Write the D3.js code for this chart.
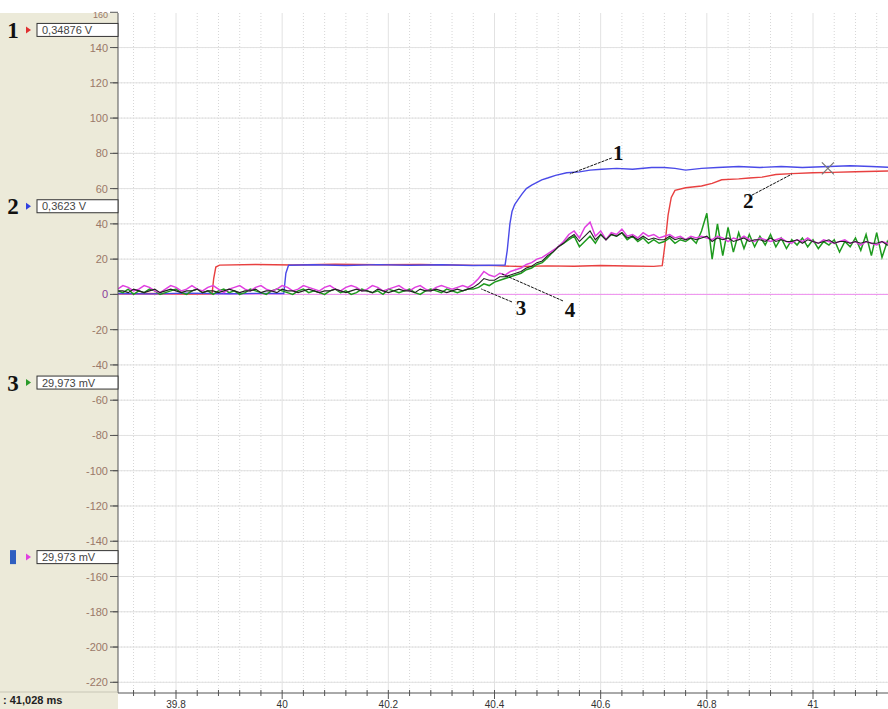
<!DOCTYPE html>
<html>
<head>
<meta charset="utf-8">
<script src="https://cdn.jsdelivr.net/npm/d3@7"></script>
<style>
  body { margin: 0; background: #fff; }
  svg { display: block; font-family: Arial, "Liberation Sans", sans-serif; }
</style>
</head>
<body>
<div class="svg-container"></div>
<script>
// sampled traces 3, 4 and black start at t0, one sample every dt ms
const t0 = 39.69;
const dt = 0.01;

const magentaValues = [
  3,5,4,2,3,5,4,2,1,3, 5,4,2,3,5,3,2,4,5,3, 1,3,4,5,3,2,4,5,3,2,
  3,5,4,2,3,5,4,3,2,4, 5,3,2,4,5,4,2,3,5,4, 2,3,4,5,3,2,4,5,3,2,
  4,5,4,3,4,5,4,
  6,9,13,11,10,12,11,13,14,15, 17,18,20,21,23,25,27,30,34,36,
  32,38,41,33,36,31,35,34,37,33, 34,32,35,33,34,32,33,34,32,33, 31,33,32,33,
  32,31,33,32,30,32,31,33,31,30, 32,31,30,31,32,30,29,31,30,32,
  30,29,31,30,29,30,31,29,30,28, 30,29,28,30,29,28
];

const greenValues = [
  2,1,3,0,2,1,3,2,0,1, 2,3,1,0,2,3,1,2,0,2, 3,1,2,0,1,3,2,1,0,2,
  3,2,1,0,2,3,1,2,1,0, 2,3,1,2,0,1,3,2,1,2, 0,3,2,1,2,3,1,0,2,3,
  2,1,3,2,1,2,3,
  3,4,6,5,7,8,9,10,11,12, 14,15,17,18,21,24,27,29,31,33,
  27,30,33,29,34,31,34,33,35,31, 33,30,32,29,31,29,30,32,29,31, 30,32,29,36,
  46,20,40,22,38,24,35,26,34,27, 33,28,34,27,32,26,31,28,32,27,
  31,26,30,28,31,24,30,27,32,25, 34,22,35,21,30,24
];

const blackValues = [
  2,2,1,3,2,1,2,3,1,2, 3,2,1,2,2,3,1,2,2,1, 2,3,2,1,2,2,3,1,2,2,
  1,3,2,2,1,2,3,2,1,2, 2,3,2,1,2,3,2,2,1,3, 2,1,2,3,2,2,1,3,2,2,
  3,2,1,2,3,2,3,
  4,6,9,8,8,10,10,11,12,13, 15,16,18,19,22,24,27,29,32,34,
  30,33,36,31,34,31,34,33,35,32, 33,31,33,31,32,31,31,33,31,32, 31,32,31,32,
  33,30,32,31,32,30,31,32,30,31, 31,30,32,30,31,30,30,31,29,31,
  30,29,30,31,29,30,30,29,30,29, 30,29,29,30,28,29
];

// [time ms, value]
const blueTrace = [
  [39.69,0.5],[39.75,0.3],[39.82,0.7],[39.90,0.4],[39.96,0.6],[40.003,0.5],[40.007,12],
  [40.012,16.5],[40.06,16.8],[40.12,16.4],[40.18,16.9],[40.24,16.5],[40.30,16.8],
  [40.36,16.4],[40.42,16.7],[40.424,25],[40.429,40],[40.433,47],[40.438,51],[40.445,54],
  [40.452,57],[40.46,60],[40.47,62],[40.48,63.5],[40.489,65],[40.50,66],[40.515,67.5],
  [40.536,69],[40.56,69.5],[40.58,70.5],[40.602,71],[40.63,71.5],[40.66,71],[40.696,72],
  [40.72,72],[40.74,71.5],[40.76,70.5],[40.79,71.5],[40.82,72],[40.86,72.5],[40.90,72],
  [40.94,72.5],[40.98,72],[41.03,72.5],[41.07,73],[41.11,72.5],[41.15,72]
];

const redTrace = [
  [39.69,0.3],[39.75,0.5],[39.82,0.2],[39.868,0.4],[39.871,9],[39.875,15.5],[39.882,16.6],
  [39.95,17],[40.02,16.7],[40.10,17.1],[40.18,16.8],[40.26,17],[40.34,16.6],[40.40,16.3],
  [40.45,15.8],[40.50,16.2],[40.55,16],[40.60,16.4],[40.65,16.1],[40.70,15.9],[40.716,16.3],
  [40.721,28],[40.727,45],[40.733,55],[40.74,59],[40.76,60.5],[40.79,61.5],[40.81,63],
  [40.828,65],[40.86,65.5],[40.88,66],[40.904,66.5],[40.93,68],[40.96,68.5],[41.0,69],
  [41.036,69.2],[41.08,69.6],[41.15,70]
];

const cursorPoint = [41.028, 71.5];

const xTicks = [39.8, 40, 40.2, 40.4, 40.6, 40.8, 41];
const xTickLabels = ['39.8', '40', '40.2', '40.4', '40.6', '40.8', '41'];
const yTicks = [160,140,120,100,80,60,40,20,0,-20,-40,-60,-80,-100,-120,-140,-160,-180,-200,-220];

const channelReadouts = ['0,34876 V', '0,3623 V', '29,973 mV', '29,973 mV'];
const channelNumbers = ['1', '2', '3', ''];
const channelColours = ['#e03030', '#3040e0', '#2a9a2a', '#e040e0'];
const cursorReadout = ': 41,028 ms';

// annotation: label, text anchor [t, v], leader from [t, v] to [t, v]
const annotations = [
  { label: '1', at: [40.633, 76.2], from: [40.621, 77.4], to: [40.542, 68.3] },
  { label: '2', at: [40.878, 49], from: [40.885, 56.3], to: [40.96, 68.2] },
  { label: '3', at: [40.45, -11.7], from: [40.433, -4.3], to: [40.375, 3.1] },
  { label: '4', at: [40.542, -12.8], from: [40.529, -3.7], to: [40.414, 11.6] }
];

const width = 888;
const height = 709;
const plot = { left: 118, top: 13, right: 888, bottom: 693 };

const x = d3.scaleLinear().domain([39.8, 41]).range([176, 813]);
const y = d3.scaleLinear().domain([0, -220]).range([294.4, 682.3]);

const svg = d3.select('.svg-container')
  .append('svg')
  .attr('width', width)
  .attr('height', height);

const defs = svg.append('defs');
defs.append('clipPath').attr('id', 'plot-clip')
  .append('rect')
  .attr('x', plot.left).attr('y', plot.top)
  .attr('width', plot.right - plot.left).attr('height', plot.bottom - plot.top);

// left panel
svg.append('rect')
  .attr('x', 0).attr('y', plot.top)
  .attr('width', plot.left).attr('height', height - plot.top)
  .attr('fill', '#ecead9');

// grid
const grid = svg.append('g').attr('clip-path', 'url(#plot-clip)');
const xMinor = d3.range(39.68, 41.16, 0.04).filter(t => xTicks.every(m => Math.abs(m - t) > 0.001));
const yMinor = d3.range(-230, 170, 20).map(v => v + 10);

grid.selectAll('.xminor').data(xMinor).enter().append('line')
  .attr('x1', d => x(d)).attr('x2', d => x(d))
  .attr('y1', plot.top).attr('y2', plot.bottom)
  .attr('stroke', '#d6d6d6').attr('stroke-dasharray', '1,2');
grid.selectAll('.yminor').data(yMinor).enter().append('line')
  .attr('y1', d => y(d)).attr('y2', d => y(d))
  .attr('x1', plot.left).attr('x2', plot.right)
  .attr('stroke', '#d6d6d6').attr('stroke-dasharray', '1,2');
grid.selectAll('.xmajor').data(xTicks).enter().append('line')
  .attr('x1', d => x(d)).attr('x2', d => x(d))
  .attr('y1', plot.top).attr('y2', plot.bottom)
  .attr('stroke', '#e2e2e2');
grid.selectAll('.ymajor').data(yTicks).enter().append('line')
  .attr('y1', d => y(d)).attr('y2', d => y(d))
  .attr('x1', plot.left).attr('x2', plot.right)
  .attr('stroke', '#e2e2e2');

// traces
const traces = svg.append('g').attr('clip-path', 'url(#plot-clip)');

traces.append('line')
  .attr('x1', x(t0)).attr('x2', plot.right)
  .attr('y1', y(0)).attr('y2', y(0))
  .attr('stroke', '#f090f0').attr('stroke-width', 1);

const sampled = d3.line().x((d, i) => x(t0 + i * dt)).y(d => y(d));
const pairLine = d3.line().x(d => x(d[0])).y(d => y(d[1]));

traces.append('path').attr('d', pairLine(redTrace))
  .attr('fill', 'none').attr('stroke', '#e84040').attr('stroke-width', 1.4);
traces.append('path').attr('d', pairLine(blueTrace))
  .attr('fill', 'none').attr('stroke', '#4a4ae8').attr('stroke-width', 1.4);
traces.append('path').attr('d', sampled(greenValues))
  .attr('fill', 'none').attr('stroke', '#1e9a1e').attr('stroke-width', 1.5);
traces.append('path').attr('d', sampled(magentaValues))
  .attr('fill', 'none').attr('stroke', '#e040e0').attr('stroke-width', 1.5);
traces.append('path').attr('d', sampled(blackValues))
  .attr('fill', 'none').attr('stroke', '#222').attr('stroke-width', 1.1);

// cursor marker
const cx = x(cursorPoint[0]);
const cy = y(cursorPoint[1]);
traces.append('path')
  .attr('d', `M${cx - 6},${cy - 6}L${cx + 6},${cy + 6}M${cx - 6},${cy + 6}L${cx + 6},${cy - 6}`)
  .attr('stroke', '#777').attr('stroke-width', 1.2);

// annotations
const notes = svg.append('g');
notes.selectAll('line').data(annotations).enter().append('line')
  .attr('x1', d => x(d.from[0])).attr('y1', d => y(d.from[1]))
  .attr('x2', d => x(d.to[0])).attr('y2', d => y(d.to[1]))
  .attr('stroke', '#111').attr('stroke-width', 1).attr('stroke-dasharray', '3,1');
notes.selectAll('text').data(annotations).enter().append('text')
  .attr('x', d => x(d.at[0])).attr('y', d => y(d.at[1]))
  .attr('text-anchor', 'middle')
  .style('font-family', '"Liberation Serif", "Times New Roman", serif')
  .style('font-weight', 'bold')
  .style('font-size', '21px')
  .attr('fill', '#111')
  .text(d => d.label);

// y axis
const yAxis = svg.append('g');
yAxis.append('line')
  .attr('x1', plot.left).attr('x2', plot.left)
  .attr('y1', plot.top).attr('y2', plot.bottom)
  .attr('stroke', '#555');
yAxis.selectAll('.ytick').data(yTicks).enter().append('line')
  .attr('x1', plot.left - 8).attr('x2', plot.left)
  .attr('y1', d => y(d)).attr('y2', d => y(d))
  .attr('stroke', '#555');
yAxis.selectAll('.yminortick').data(yMinor.filter(v => v < 160)).enter().append('line')
  .attr('x1', plot.left - 5).attr('x2', plot.left)
  .attr('y1', d => y(d)).attr('y2', d => y(d))
  .attr('stroke', '#555');
yAxis.selectAll('text').data(yTicks).enter().append('text')
  .attr('x', plot.left - 10).attr('y', d => d === 160 ? y(d) + 6 : y(d) + 4)
  .attr('text-anchor', 'end')
  .style('font-size', d => d === 160 ? '9px' : '11px')
  .attr('fill', d => d === 0 ? '#8a3a9a' : '#9a7868')
  .text(d => d);

// x axis
const xAxis = svg.append('g');
xAxis.append('line')
  .attr('x1', plot.left).attr('x2', plot.right)
  .attr('y1', plot.bottom).attr('y2', plot.bottom)
  .attr('stroke', '#555');
xAxis.selectAll('.xminortick').data(xMinor.filter(t => t > 39.7)).enter().append('line')
  .attr('x1', d => x(d)).attr('x2', d => x(d))
  .attr('y1', plot.bottom - 3).attr('y2', plot.bottom + 3)
  .attr('stroke', '#555');
xAxis.selectAll('.xtick').data(xTicks).enter().append('line')
  .attr('x1', d => x(d)).attr('x2', d => x(d))
  .attr('y1', plot.bottom - 3).attr('y2', plot.bottom + 6)
  .attr('stroke', '#555');
xAxis.selectAll('text').data(xTicks).enter().append('text')
  .attr('x', d => x(d)).attr('y', 707.5)
  .attr('text-anchor', 'middle')
  .style('font-size', '10px')
  .attr('fill', '#333')
  .text((d, i) => xTickLabels[i]);

// channel readout boxes
const boxY = [y(150), y(50), y(-50), y(-149)];
const boxes = svg.append('g');
channelReadouts.forEach((label, i) => {
  const by = boxY[i];
  boxes.append('rect')
    .attr('x', 37).attr('y', by - 6.5).attr('width', 81).attr('height', 13)
    .attr('fill', '#fff').attr('stroke', '#333').attr('stroke-width', 1);
  boxes.append('text')
    .attr('x', 42).attr('y', by + 4)
    .style('font-size', '11px')
    .attr('fill', '#444')
    .text(label);
  boxes.append('path')
    .attr('d', `M26,${by - 3.5}L31,${by}L26,${by + 3.5}Z`)
    .attr('fill', channelColours[i]);
  if (channelNumbers[i]) {
    boxes.append('text')
      .attr('x', 13).attr('y', by + 8)
      .attr('text-anchor', 'middle')
      .style('font-family', '"Liberation Serif", "Times New Roman", serif')
      .style('font-weight', 'bold')
      .style('font-size', '23px')
      .attr('fill', '#111')
      .text(channelNumbers[i]);
  } else {
    boxes.append('rect')
      .attr('x', 10).attr('y', by - 7).attr('width', 6).attr('height', 14)
      .attr('fill', '#2f5fc0');
  }
});

// cursor readout
svg.append('line')
  .attr('x1', 0).attr('x2', plot.left)
  .attr('y1', 692).attr('y2', 692)
  .attr('stroke', '#c8c6b6');
svg.append('text')
  .attr('x', 3).attr('y', 704)
  .style('font-size', '11px')
  .style('font-weight', 'bold')
  .attr('fill', '#222')
  .text(cursorReadout);
</script>
</body>
</html>
